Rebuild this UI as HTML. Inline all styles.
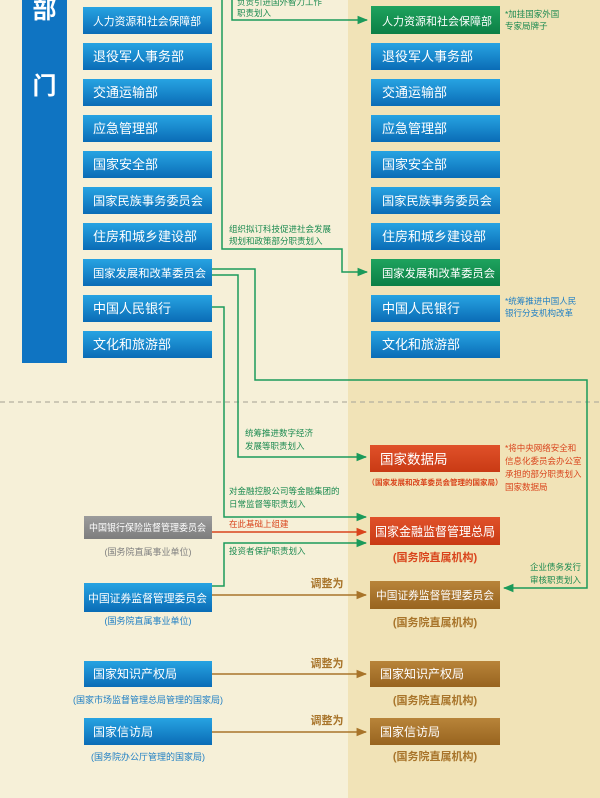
<!DOCTYPE html>
<html><head><meta charset="utf-8"><style>
html,body{margin:0;padding:0;width:600px;height:798px;overflow:hidden;background:#f6f0d8;}
svg{display:block;font-family:"Liberation Sans","Noto Sans CJK SC",sans-serif;}
</style></head><body>
<svg width="600" height="798" viewBox="0 0 600 798" xmlns="http://www.w3.org/2000/svg">
<defs>
<linearGradient id="gb" x1="0" y1="0" x2="0" y2="1"><stop offset="0" stop-color="#27a3e2"/><stop offset="1" stop-color="#0a6cb6"/></linearGradient>
<linearGradient id="gg" x1="0" y1="0" x2="0" y2="1"><stop offset="0" stop-color="#1ea35e"/><stop offset="1" stop-color="#0c7f45"/></linearGradient>
<linearGradient id="gr" x1="0" y1="0" x2="0" y2="1"><stop offset="0" stop-color="#e0512a"/><stop offset="1" stop-color="#c93a14"/></linearGradient>
<linearGradient id="gy" x1="0" y1="0" x2="0" y2="1"><stop offset="0" stop-color="#9c9c9c"/><stop offset="1" stop-color="#7d7d7d"/></linearGradient>
<linearGradient id="gw" x1="0" y1="0" x2="0" y2="1"><stop offset="0" stop-color="#b8843a"/><stop offset="1" stop-color="#98641f"/></linearGradient>
<marker id="ag" viewBox="0 0 10 10" refX="9" refY="5" markerWidth="7" markerHeight="7" orient="auto"><path d="M0,1 L10,5 L0,9 z" fill="#1b9a5a"/></marker>
<marker id="ar" viewBox="0 0 10 10" refX="9" refY="5" markerWidth="7" markerHeight="7" orient="auto"><path d="M0,1 L10,5 L0,9 z" fill="#d9441c"/></marker>
<marker id="ay" viewBox="0 0 10 10" refX="9" refY="5" markerWidth="7" markerHeight="7" orient="auto"><path d="M0,1 L10,5 L0,9 z" fill="#a8742a"/></marker>
</defs>
<rect x="0" y="0" width="348" height="798" fill="#f6f0d8"/>
<rect x="348" y="0" width="252" height="798" fill="#f1e3b7"/>
<line x1="0" y1="402" x2="600" y2="402" stroke="#b5b0a0" stroke-width="1.2" stroke-dasharray="5,4"/>

<rect x="22" y="0" width="45" height="363" fill="#0f74c2"/>
<text x="44.5" y="18" font-size="24" font-weight="bold" fill="#fff" text-anchor="middle">部</text>
<text x="44.5" y="94" font-size="24" font-weight="bold" fill="#fff" text-anchor="middle">门</text>

<g font-size="12.5" fill="#fff">
<rect x="83" y="7" width="129" height="27" fill="url(#gb)"/><text x="93" y="25" font-size="11" textLength="108" lengthAdjust="spacingAndGlyphs">人力资源和社会保障部</text>
<rect x="83" y="43" width="129" height="27" fill="url(#gb)"/><text x="93" y="61" font-size="13">退役军人事务部</text>
<rect x="83" y="79" width="129" height="27" fill="url(#gb)"/><text x="93" y="97" font-size="13">交通运输部</text>
<rect x="83" y="115" width="129" height="27" fill="url(#gb)"/><text x="93" y="133" font-size="13">应急管理部</text>
<rect x="83" y="151" width="129" height="27" fill="url(#gb)"/><text x="93" y="169" font-size="13">国家安全部</text>
<rect x="83" y="187" width="129" height="27" fill="url(#gb)"/><text x="93" y="205" font-size="12" textLength="110" lengthAdjust="spacingAndGlyphs">国家民族事务委员会</text>
<rect x="83" y="223" width="129" height="27" fill="url(#gb)"/><text x="93" y="241" font-size="13">住房和城乡建设部</text>
<rect x="83" y="259" width="129" height="27" fill="url(#gb)"/><text x="93" y="277" font-size="11" textLength="113" lengthAdjust="spacingAndGlyphs">国家发展和改革委员会</text>
<rect x="83" y="295" width="129" height="27" fill="url(#gb)"/><text x="93" y="313" font-size="13">中国人民银行</text>
<rect x="83" y="331" width="129" height="27" fill="url(#gb)"/><text x="93" y="349" font-size="13">文化和旅游部</text>

<rect x="371" y="6" width="129" height="28" fill="url(#gg)"/><text x="382" y="25" font-size="11" textLength="110" lengthAdjust="spacingAndGlyphs">人力资源和社会保障部</text>
<rect x="371" y="43" width="129" height="27" fill="url(#gb)"/><text x="382" y="61" font-size="13">退役军人事务部</text>
<rect x="371" y="79" width="129" height="27" fill="url(#gb)"/><text x="382" y="97" font-size="13">交通运输部</text>
<rect x="371" y="115" width="129" height="27" fill="url(#gb)"/><text x="382" y="133" font-size="13">应急管理部</text>
<rect x="371" y="151" width="129" height="27" fill="url(#gb)"/><text x="382" y="169" font-size="13">国家安全部</text>
<rect x="371" y="187" width="129" height="27" fill="url(#gb)"/><text x="382" y="205" font-size="12" textLength="110" lengthAdjust="spacingAndGlyphs">国家民族事务委员会</text>
<rect x="371" y="223" width="129" height="27" fill="url(#gb)"/><text x="382" y="241" font-size="13">住房和城乡建设部</text>
<rect x="371" y="259" width="129" height="27" fill="url(#gg)"/><text x="382" y="277" font-size="11" textLength="113" lengthAdjust="spacingAndGlyphs">国家发展和改革委员会</text>
<rect x="371" y="295" width="129" height="27" fill="url(#gb)"/><text x="382" y="313" font-size="13">中国人民银行</text>
<rect x="371" y="331" width="129" height="27" fill="url(#gb)"/><text x="382" y="349" font-size="13">文化和旅游部</text>

<rect x="370" y="445" width="130" height="27" fill="url(#gr)"/><text x="380" y="464" font-size="13.5">国家数据局</text>
<rect x="370" y="517" width="130" height="28" fill="url(#gr)"/><text x="375" y="536" font-size="12.5" textLength="120" lengthAdjust="spacingAndGlyphs">国家金融监督管理总局</text>
<rect x="370" y="581" width="130" height="28" fill="url(#gw)"/><text x="376" y="599" font-size="11" textLength="118" lengthAdjust="spacingAndGlyphs">中国证券监督管理委员会</text>
<rect x="370" y="661" width="130" height="26" fill="url(#gw)"/><text x="380" y="678" font-size="12">国家知识产权局</text>
<rect x="370" y="718" width="130" height="27" fill="url(#gw)"/><text x="380" y="736" font-size="12">国家信访局</text>

<rect x="84" y="516" width="128" height="23" fill="url(#gy)"/><text x="89" y="531" font-size="9.5" textLength="117" lengthAdjust="spacingAndGlyphs">中国银行保险监督管理委员会</text>
<rect x="84" y="583" width="128" height="29" fill="url(#gb)"/><text x="88" y="602" font-size="11" textLength="119" lengthAdjust="spacingAndGlyphs">中国证券监督管理委员会</text>
<rect x="84" y="661" width="128" height="26" fill="url(#gb)"/><text x="93" y="678" font-size="12">国家知识产权局</text>
<rect x="84" y="718" width="128" height="27" fill="url(#gb)"/><text x="93" y="736" font-size="12">国家信访局</text>
</g>

<g fill="none" stroke-width="1.5">
<polyline points="222,0 222,249 342,249 342,272 367,272" stroke="#1b9a5a" marker-end="url(#ag)"/>
<polyline points="232,0 232,20 367,20" stroke="#1b9a5a" marker-end="url(#ag)"/>
<polyline points="212,269 255,269 255,380 587,380 587,588 504,588" stroke="#1b9a5a" marker-end="url(#ag)"/>
<polyline points="212,275 238,275 238,457 366,457" stroke="#1b9a5a" marker-end="url(#ag)"/>
<polyline points="212,307 224,307 224,517 366,517" stroke="#1b9a5a" marker-end="url(#ag)"/>
<polyline points="212,586 224,586 224,543 366,543" stroke="#1b9a5a" marker-end="url(#ag)"/>
<line x1="212" y1="532" x2="366" y2="532" stroke="#d9441c" marker-end="url(#ar)"/>
<line x1="212" y1="595" x2="366" y2="595" stroke="#a8742a" marker-end="url(#ay)"/>
<line x1="212" y1="674" x2="366" y2="674" stroke="#a8742a" marker-end="url(#ay)"/>
<line x1="212" y1="732" x2="366" y2="732" stroke="#a8742a" marker-end="url(#ay)"/>
</g>

<g font-size="8.5" fill="#1b8a50">
<text x="237" y="5">负责引进国外智力工作</text>
<text x="237" y="16">职责划入</text>
<text x="229" y="232">组织拟订科技促进社会发展</text>
<text x="229" y="244">规划和政策部分职责划入</text>
<text x="505" y="17">*加挂国家外国</text>
<text x="505" y="29">专家局牌子</text>
<text x="245" y="436">统筹推进数字经济</text>
<text x="245" y="449">发展等职责划入</text>
<text x="229" y="494">对金融控股公司等金融集团的</text>
<text x="229" y="507">日常监督等职责划入</text>
<text x="229" y="554">投资者保护职责划入</text>
<text x="530" y="570">企业债务发行</text>
<text x="530" y="583">审核职责划入</text>
</g>
<g font-size="8.5" fill="#1f7fc4">
<text x="505" y="304">*统筹推进中国人民</text>
<text x="505" y="316">银行分支机构改革</text>
</g>
<g font-size="8.5" fill="#d9441c">
<text x="505" y="451">*将中央网络安全和</text>
<text x="505" y="464">信息化委员会办公室</text>
<text x="505" y="477">承担的部分职责划入</text>
<text x="505" y="490">国家数据局</text>
<text x="229" y="527">在此基础上组建</text>
<text x="435" y="485" font-size="7.5" text-anchor="middle" font-weight="bold">（国家发展和改革委员会管理的国家局）</text>
<text x="435" y="561" font-size="11" text-anchor="middle" font-weight="bold">(国务院直属机构)</text>
</g>
<g fill="#a8742a" font-weight="bold">
<text x="435" y="626" font-size="11" text-anchor="middle">(国务院直属机构)</text>
<text x="435" y="704" font-size="11" text-anchor="middle">(国务院直属机构)</text>
<text x="435" y="760" font-size="11" text-anchor="middle">(国务院直属机构)</text>
<text x="327" y="587" font-size="11" text-anchor="middle">调整为</text>
<text x="327" y="667" font-size="11" text-anchor="middle">调整为</text>
<text x="327" y="724" font-size="11" text-anchor="middle">调整为</text>
</g>
<text x="148" y="555" font-size="9" fill="#808080" text-anchor="middle">(国务院直属事业单位)</text>
<g font-size="9" fill="#1f7fc4" text-anchor="middle">
<text x="148" y="624">(国务院直属事业单位)</text>
<text x="148" y="703">(国家市场监督管理总局管理的国家局)</text>
<text x="148" y="760">(国务院办公厅管理的国家局)</text>
</g>
</svg>
</body></html>
